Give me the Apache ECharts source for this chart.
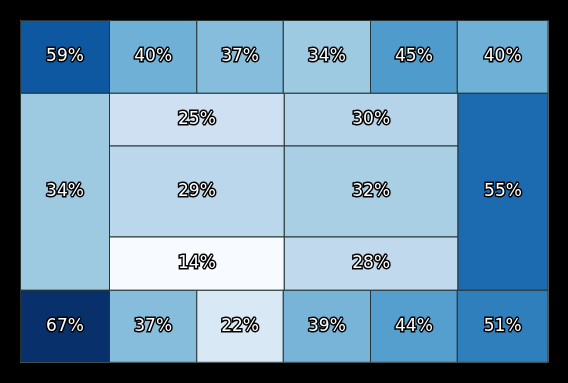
<!DOCTYPE html>
<html>
<head>
<meta charset="utf-8">
<script src="https://cdn.jsdelivr.net/npm/echarts@6/dist/echarts.min.js"></script>
<style>html,body{margin:0;padding:0;background:#000;}#c{width:568px;height:383px;}</style>
</head>
<body>
<div id="c"></div>
<script>
// cell values (percent)
const values = [59, 40, 37, 34, 45, 40, 34, 25, 29, 14, 30, 32, 28, 55, 67, 37, 22, 39, 44, 51];
// cell extents in layout units
const xStart = [0, 89, 176.3, 262.8, 350, 436.8, 0, 89, 89, 89, 263.8, 263.8, 263.8, 437.5, 0, 89, 176.3, 262.8, 350, 436.8];
const xEnd   = [89, 176.3, 262.8, 350, 436.8, 527.5, 89, 263.8, 263.8, 263.8, 437.5, 437.5, 437.5, 527.5, 89, 176.3, 262.8, 350, 436.8, 527.5];
const yStart = [0, 0, 0, 0, 0, 0, 72.8, 72.8, 125.5, 216.5, 72.8, 125.5, 216.5, 72.8, 269.8, 269.8, 269.8, 269.8, 269.8, 269.8];
const yEnd   = [72.8, 72.8, 72.8, 72.8, 72.8, 72.8, 269.8, 125.5, 216.5, 269.8, 125.5, 216.5, 269.8, 269.8, 341.8, 341.8, 341.8, 341.8, 341.8, 341.8];

const blues = ['#f7fbff', '#deebf7', '#c6dbef', '#9ecae1', '#6baed6', '#4292c6', '#2171b5', '#08519c', '#08306b'];

const data = values.map((v, i) => [xStart[i], xEnd[i], yStart[i], yEnd[i], v]);

const chart = echarts.init(document.getElementById('c'), null, {renderer: 'canvas'});
chart.setOption({
  backgroundColor: '#000',
  animation: false,
  grid: {left: 20.5, top: 20.5, width: 527.5, height: 341.8, show: true, backgroundColor: '#fff', borderColor: '#fff', borderWidth: 1},
  xAxis: {type: 'value', min: 0, max: 527.5, show: false},
  yAxis: {type: 'value', min: 0, max: 341.8, inverse: true, show: false},
  visualMap: {show: false, type: 'continuous', min: 14, max: 67, dimension: 4, seriesIndex: 0, inRange: {color: blues}},
  series: [{
    type: 'custom',
    data: data,
    encode: {x: [0, 1], y: [2, 3]},
    renderItem: function (params, api) {
      const p0 = api.coord([api.value(0), api.value(2)]);
      const p1 = api.coord([api.value(1), api.value(3)]);
      return {
        type: 'group',
        children: [{
          type: 'rect',
          shape: {x: p0[0], y: p0[1], width: p1[0] - p0[0], height: p1[1] - p0[1]},
          style: {fill: api.visual('color'), stroke: '#263636', lineWidth: 1}
        }, {
          type: 'text',
          x: (p0[0] + p1[0]) / 2,
          y: (p0[1] + p1[1]) / 2,
          style: {
            text: api.value(4) + '%',
            fill: '#ffffff',
            stroke: '#000000',
            lineWidth: 3,
            font: '17px "DejaVu Sans"',
            align: 'center',
            verticalAlign: 'middle'
          }
        }]
      };
    }
  }]
});
</script>
</body>
</html>
